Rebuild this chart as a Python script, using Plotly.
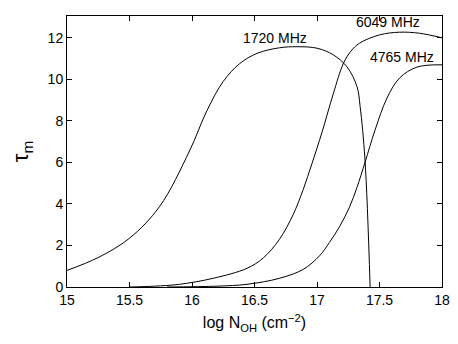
import plotly.graph_objects as go

# log N_OH values and tau_m
x_1720 = [15.0, 15.25, 15.5, 15.74, 15.98, 16.12, 16.25, 16.38, 16.52,
          16.7, 16.84, 17.0, 17.13, 17.24, 17.32, 17.345, 17.384, 17.425]
y_1720 = [0.8, 1.42, 2.35, 3.87, 6.55, 8.5, 9.9, 10.75, 11.25,
          11.52, 11.57, 11.5, 11.18, 10.6, 9.65, 8.69, 6.12, 0.0]

x_6049 = [15.5, 15.7, 15.9, 16.17, 16.44, 16.57, 16.7, 16.81, 16.89, 16.96, 17.04,
          17.13, 17.21, 17.27, 17.34, 17.5, 17.66, 17.82, 18.0]
y_6049 = [0.0, 0.04, 0.13, 0.42, 0.9, 1.4, 2.3, 3.5, 4.7, 5.95, 7.45,
          9.3, 10.75, 11.35, 11.74, 12.14, 12.27, 12.22, 12.0]

x_4765 = [15.8, 16.2, 16.44, 16.7, 16.89, 17.02, 17.1, 17.18, 17.26, 17.32, 17.384, 17.464,
          17.56, 17.66, 17.8, 18.0]
y_4765 = [0.0, 0.04, 0.13, 0.42, 0.85, 1.5, 2.15, 2.9, 3.85, 4.8, 6.0, 7.55,
          9.1, 10.06, 10.59, 10.7]

labels = ['1720 MHz', '6049 MHz', '4765 MHz']
label_x = [16.66, 17.57, 17.68]
label_y = [12.0, 12.75, 11.06]

font = 'Liberation Sans, Arial, sans-serif'

fig = go.Figure()
for xs, ys, name in [(x_1720, y_1720, labels[0]), (x_6049, y_6049, labels[1]), (x_4765, y_4765, labels[2])]:
    fig.add_trace(go.Scatter(
        x=xs, y=ys, name=name, mode='lines',
        line=dict(color='black', width=1, shape='spline', smoothing=1.0),
    ))

for t, lx, ly in zip(labels, label_x, label_y):
    fig.add_annotation(x=lx, y=ly, text=t, showarrow=False,
                       font=dict(size=14, color='black', family=font))

axis_style = dict(showline=True, linecolor='black', linewidth=1, mirror='ticks',
                  ticks='inside', ticklen=5, tickcolor='black', showgrid=False,
                  zeroline=False, automargin=False,
                  tickfont=dict(size=14, color='black', family=font))

# the page body adds an 8px margin, so the figure is 8px smaller and margins shifted
fig.update_layout(
    width=450, height=336,
    margin=dict(l=59, r=16, t=8, b=57),
    paper_bgcolor='white', plot_bgcolor='white',
    showlegend=False,
    xaxis=dict(range=[15, 18], dtick=0.5, tick0=15,
               title=dict(text='log N<sub>OH</sub> (cm<sup>\u22122</sup>)',
                          font=dict(size=16, color='black', family=font), standoff=10),
               **axis_style),
    yaxis=dict(range=[0, 13.05], dtick=2, tick0=0,
               title=dict(text='\u03c4<sub>m</sub>',
                          font=dict(size=22, color='black', family=font), standoff=28),
               **axis_style),
)

fig.write_html("out.html")
